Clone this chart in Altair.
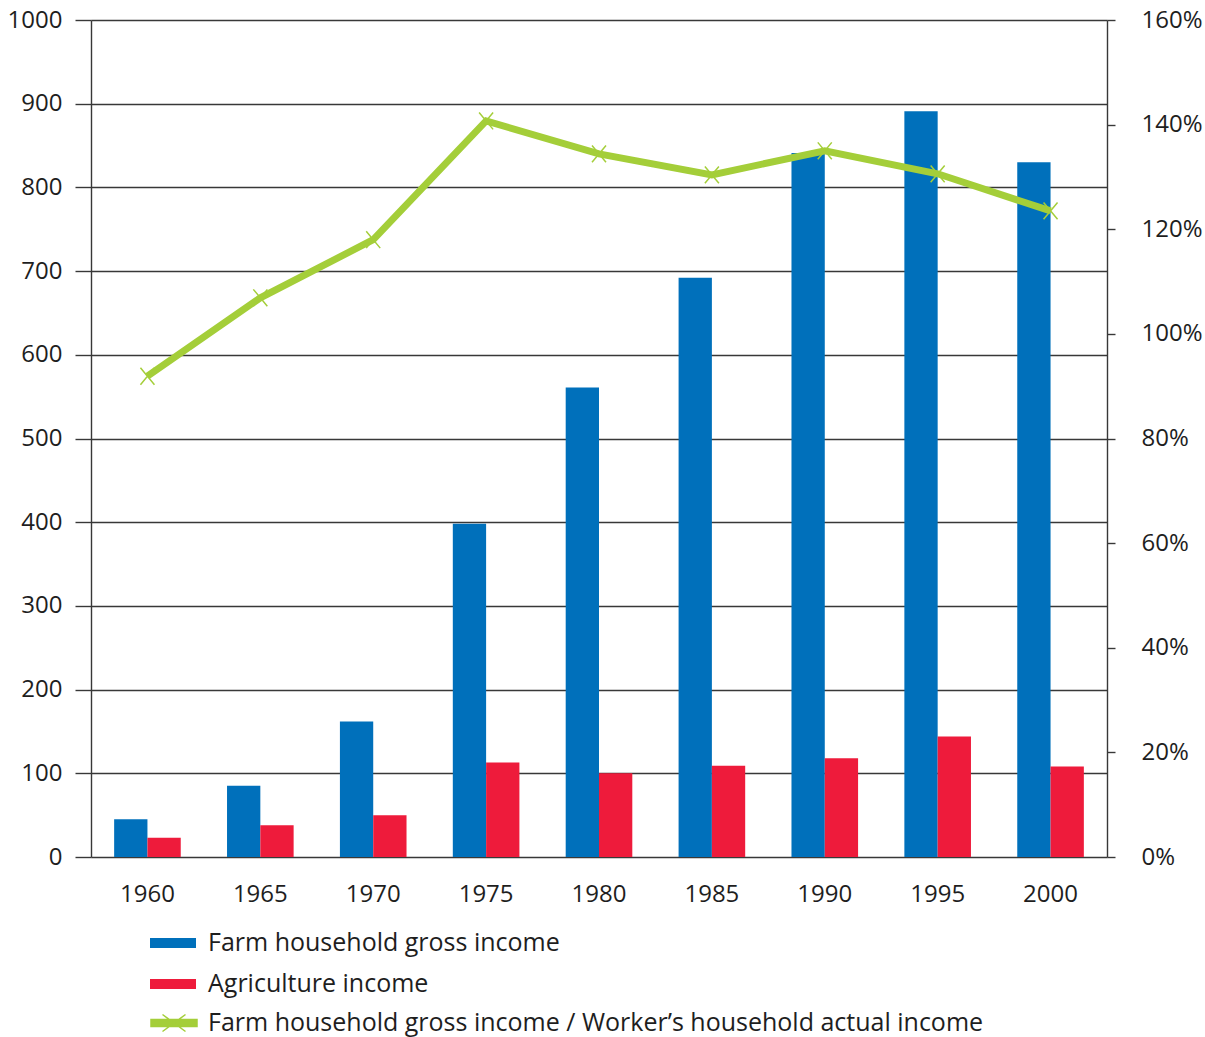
import altair as alt
import pandas as pd

years = ["1960", "1965", "1970", "1975", "1980", "1985", "1990", "1995", "2000"]
gross_income = [45, 85, 162, 398, 561, 692, 841, 891, 830]
agri_income = [23, 38, 50, 113, 100, 109, 118, 144, 108]
ratio_pct = [91.9, 106.9, 118.0, 140.7, 134.4, 130.4, 135.0, 130.6, 123.5]

S1 = "Farm household gross income"
S2 = "Agriculture income"
S3 = "Farm household gross income / Worker\u2019s household actual income"

left_ticks = list(range(0, 1001, 100))
right_ticks = list(range(0, 161, 20))

BLUE = "#0070BB"
RED = "#EE1B3B"
GREEN = "#A4CE39"
GRID = "#383838"
TEXT = "#1e1e1e"
FONT = "Open Sans"

bar_df = pd.DataFrame(
    [{"year": y, "series": S1, "value": v} for y, v in zip(years, gross_income)]
    + [{"year": y, "series": S2, "value": v} for y, v in zip(years, agri_income)]
)
line_df = pd.DataFrame({"year": years, "ratio": ratio_pct, "series": [S3] * len(years)})

x_enc = alt.X(
    "year:N",
    sort=years,
    scale=alt.Scale(paddingInner=0.41, paddingOuter=0.205),
    axis=alt.Axis(
        title=None, labelAngle=0, ticks=False, domain=False, grid=False,
        labelFontSize=24, labelPadding=25, labelColor=TEXT, labelFont=FONT,
    ),
)

bar_rect = "M-1,-0.217H1V0.217H-1Z"
line_sym = "M-1,-0.152H1V0.152H-1Z M-0.5,-0.37L0.5,0.37 M-0.5,0.37L0.5,-0.37"

bars = alt.Chart(bar_df).mark_bar().encode(
    x=x_enc,
    xOffset=alt.XOffset("series:N", scale=alt.Scale(domain=[S1, S2], paddingInner=0, paddingOuter=0)),
    y=alt.Y(
        "value:Q",
        scale=alt.Scale(domain=[0, 1000], nice=False, zero=True),
        axis=alt.Axis(
            title=None, values=left_ticks, format="d", tickSize=16, tickColor=GRID, tickWidth=1.4,
            labelPadding=13, labelFontSize=24, labelColor=TEXT, labelFont=FONT,
            grid=True, gridColor=GRID, gridWidth=1.4, gridOpacity=1,
            domain=True, domainColor=GRID, domainWidth=1.4,
        ),
    ),
    fill=alt.Fill(
        "series:N",
        scale=alt.Scale(domain=[S1, S2], range=[BLUE, RED]),
        legend=alt.Legend(
            title=None, orient="none", legendX=59, legendY=911, padding=0,
            symbolType=bar_rect, symbolSize=2116, symbolStrokeWidth=0,
            labelFontSize=25, labelFont=FONT, labelColor=TEXT, labelOffset=12,
            labelLimit=1000, rowPadding=16, clipHeight=24,
        ),
    ),
)

y_right_scale = alt.Scale(domain=[0, 160], nice=False, zero=True)
right_axis = alt.Axis(
    title=None, orient="right", values=right_ticks, labelExpr="datum.value + '%'",
    tickSize=8, tickColor=GRID, tickWidth=1.4, labelPadding=26,
    labelFontSize=24, labelColor=TEXT, labelFont=FONT, labelAlign="left",
    grid=False, domain=True, domainColor=GRID, domainWidth=1.4,
)

line = alt.Chart(line_df).mark_line(strokeWidth=7).encode(
    x=alt.X("year:N", sort=years),
    y=alt.Y("ratio:Q", scale=y_right_scale, axis=right_axis),
    stroke=alt.Stroke(
        "series:N",
        scale=alt.Scale(domain=[S3], range=[GREEN]),
        legend=alt.Legend(
            title=None, orient="none", legendX=59, legendY=991, padding=0,
            symbolType=line_sym, symbolSize=2116, symbolStrokeWidth=1.5,
            symbolFillColor=GREEN,
            labelFontSize=25, labelFont=FONT, labelColor=TEXT, labelOffset=10,
            labelLimit=1000, clipHeight=24,
        ),
    ),
)

pts = alt.Chart(line_df).mark_point(
    shape="M-1,-1.2L1,1.2M-1,1.2L1,-1.2", size=196, strokeWidth=1.5,
    filled=False, color=GREEN, opacity=1,
).encode(
    x=alt.X("year:N", sort=years),
    y=alt.Y("ratio:Q", scale=y_right_scale, axis=right_axis),
)

right = alt.layer(line, pts)

chart = (
    alt.layer(bars, right)
    .resolve_scale(y="independent", fill="independent", stroke="independent")
    .properties(
        width=1016, height=837,
        padding={"left": 91, "top": 20, "right": 98, "bottom": 180},
        autosize=alt.AutoSizeParams(type="none"),
        background="white",
    )
    .configure_view(stroke=None)
)

chart.save("out.html", embed_options={"renderer": "svg", "actions": False})
